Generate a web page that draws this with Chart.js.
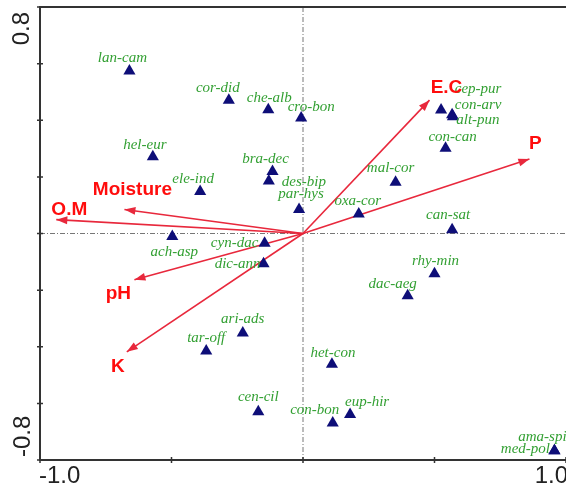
<!DOCTYPE html>
<html>
<head>
<meta charset="utf-8">
<script src="https://cdn.jsdelivr.net/npm/chart.js@4.4.1/dist/chart.umd.min.js"></script>
<style>
  html, body { margin: 0; padding: 0; background: #fff; overflow: hidden; }
  #wrap { width: 566px; height: 496px; position: relative; }
</style>
</head>
<body>
<div id="wrap"><canvas id="cca"></canvas></div>
<script>
// Species scores
const species = [
  "lan-cam", "cor-did", "che-alb", "cro-bon", "hel-eur", "bra-dec", "des-bip",
  "par-hys", "ele-ind", "ach-asp", "cyn-dac", "dic-ann", "ari-ads", "tar-off",
  "cen-cil", "con-bon", "eup-hir", "het-con", "dac-aeg", "rhy-min", "can-sat",
  "mal-cor", "oxa-cor", "con-can", "cep-pur", "con-arv", "alt-pun", "ama-spi", "med-pol"
];
const speciesX = [
  -0.660, -0.282, -0.132, -0.007, -0.571, -0.116, -0.130,
  -0.015, -0.391, -0.497, -0.146, -0.150, -0.229, -0.368,
  -0.170, 0.113, 0.179, 0.110, 0.398, 0.500, 0.567,
  0.352, 0.212, 0.542, 0.525, 0.567, 0.570, 0.956, 0.956
];
const speciesY = [
  0.574, 0.471, 0.437, 0.408, 0.271, 0.219, 0.185,
  0.085, 0.148, -0.011, -0.034, -0.107, -0.351, -0.415,
  -0.630, -0.669, -0.639, -0.462, -0.220, -0.142, 0.013,
  0.181, 0.069, 0.301, 0.436, 0.419, 0.412, -0.767, -0.767
];

// Environmental variable arrows (tips)
const envVars = ["E.C", "P", "Moisture", "O.M", "pH", "K"];
const envX = [0.481, 0.861, -0.679, -0.938, -0.641, -0.670];
const envY = [0.471, 0.263, 0.085, 0.049, -0.163, -0.418];

// Axis ticks
const xTickValues = [-1, -0.5, 0, 0.5, 1];
const yTickValues = [-0.8, -0.6, -0.4, -0.2, 0, 0.2, 0.4, 0.6, 0.8];
const xEndLabels = ["-1.0", "1.0"];
const yEndLabels = ["-0.8", "0.8"];

// label placement in pixels relative to the point (layout only)
const speciesLabelOffset = [
  [-7, -13], [-11, -12], [1, -12], [10, -11], [-8, -12], [-7, -12], [35, 1],
  [2, -15], [-7, -13], [2, 15], [-30, 0], [-26, 0], [0, -14], [0, -13],
  [0, -15], [-18, -13], [17, -12], [1, -11], [-15, -12], [1, -13], [-4, -15],
  [-5, -14], [-1, -13], [7, -11], [37, -21], [26, -10], [25, 3], [-12, -14], [-29, -2]
];
const envLabelOffset = [[17, -12], [6, -15], [8, -20], [13, -10], [-16, 14], [-9, 15]];

const RED = "#e8283c";
const RED_TEXT = "#ff0d0d";
const NAVY = "#0e0e78";
const GREEN = "#33a033";
const AXIS = "#333";

const datasets = [];
datasets.push({
  label: "species",
  data: species.map((s, i) => ({ x: speciesX[i], y: speciesY[i] })),
  pointStyle: "triangle",
  pointRadius: 7,
  pointHoverRadius: 7,
  backgroundColor: NAVY,
  borderColor: NAVY,
  borderWidth: 0,
  showLine: false,
  order: 1
});
envVars.forEach((v, i) => {
  datasets.push({
    label: v,
    data: [{ x: 0, y: 0 }, { x: envX[i], y: envY[i] }],
    showLine: true,
    borderColor: RED,
    borderWidth: 1.6,
    pointRadius: 0,
    order: 2
  });
});

// Plugin: center lines, axes, arrowheads, labels
const biplotDecor = {
  id: "biplotDecor",
  beforeDatasetsDraw(chart) {
    const { ctx, chartArea: a, scales: { x, y } } = chart;
    ctx.save();
    ctx.strokeStyle = "#777";
    ctx.lineWidth = 1;
    ctx.setLineDash([5, 2, 1, 2]);
    const x0 = x.getPixelForValue(0), y0 = y.getPixelForValue(0);
    ctx.beginPath();
    ctx.moveTo(x0, a.top); ctx.lineTo(x0, a.bottom);
    ctx.moveTo(a.left, y0); ctx.lineTo(a.right, y0);
    ctx.stroke();
    ctx.restore();
  },
  afterDatasetsDraw(chart) {
    const { ctx, scales: { x, y } } = chart;
    const ox = x.getPixelForValue(0), oy = y.getPixelForValue(0);
    ctx.save();
    // arrowheads
    ctx.fillStyle = RED;
    envVars.forEach((v, i) => {
      const tx = x.getPixelForValue(envX[i]), ty = y.getPixelForValue(envY[i]);
      const ang = Math.atan2(ty - oy, tx - ox);
      const len = 11, hw = 4;
      ctx.beginPath();
      ctx.moveTo(tx, ty);
      ctx.lineTo(tx - len * Math.cos(ang) + hw * Math.sin(ang), ty - len * Math.sin(ang) - hw * Math.cos(ang));
      ctx.lineTo(tx - len * Math.cos(ang) - hw * Math.sin(ang), ty - len * Math.sin(ang) + hw * Math.cos(ang));
      ctx.closePath();
      ctx.fill();
    });
    // species labels
    ctx.font = "italic 15px 'Liberation Serif', 'DejaVu Serif', serif";
    ctx.fillStyle = GREEN;
    ctx.textAlign = "center";
    ctx.textBaseline = "middle";
    species.forEach((s, i) => {
      const px = x.getPixelForValue(speciesX[i]), py = y.getPixelForValue(speciesY[i]);
      ctx.fillText(s, px + speciesLabelOffset[i][0], py + speciesLabelOffset[i][1]);
    });
    // variable labels
    ctx.font = "bold 19px 'Liberation Sans', Arial, sans-serif";
    ctx.fillStyle = RED_TEXT;
    envVars.forEach((v, i) => {
      const px = x.getPixelForValue(envX[i]), py = y.getPixelForValue(envY[i]);
      ctx.fillText(v, px + envLabelOffset[i][0], py + envLabelOffset[i][1]);
    });
    ctx.restore();
  },
  afterDraw(chart) {
    const { ctx, chartArea: a, scales: { x, y } } = chart;
    ctx.save();
    ctx.strokeStyle = AXIS;
    ctx.lineWidth = 2;
    ctx.setLineDash([]);
    ctx.beginPath();
    ctx.moveTo(a.right + 2, a.top); ctx.lineTo(a.left, a.top);
    ctx.lineTo(a.left, a.bottom); ctx.lineTo(a.right + 2, a.bottom);
    ctx.stroke();
    // ticks
    ctx.lineWidth = 1.5;
    ctx.beginPath();
    xTickValues.forEach(v => {
      const px = x.getPixelForValue(v);
      ctx.moveTo(px, a.bottom - 3); ctx.lineTo(px, a.bottom + 3);
    });
    yTickValues.forEach(v => {
      const py = y.getPixelForValue(v);
      ctx.moveTo(a.left - 3, py); ctx.lineTo(a.left + 3, py);
    });
    ctx.stroke();
    // end labels
    ctx.fillStyle = "#222";
    ctx.font = "24px 'Liberation Sans', Arial, sans-serif";
    ctx.textBaseline = "alphabetic";
    ctx.textAlign = "left";
    ctx.fillText(xEndLabels[0], x.getPixelForValue(-1) - 1, a.bottom + 23);
    ctx.textAlign = "right";
    ctx.fillText(xEndLabels[1], x.getPixelForValue(1) + 2, a.bottom + 23);
    ctx.save();
    ctx.translate(30, y.getPixelForValue(-0.8) - 3);
    ctx.rotate(-Math.PI / 2);
    ctx.textAlign = "left";
    ctx.fillText(yEndLabels[0], 0, 0);
    ctx.restore();
    ctx.save();
    ctx.translate(29, y.getPixelForValue(0.8) + 5);
    ctx.rotate(-Math.PI / 2);
    ctx.textAlign = "right";
    ctx.fillText(yEndLabels[1], 0, 0);
    ctx.restore();
    ctx.restore();
  }
};

new Chart(document.getElementById("cca"), {
  type: "scatter",
  data: { datasets: datasets },
  options: {
    responsive: true,
    maintainAspectRatio: false,
    animation: false,
    layout: { autoPadding: false, padding: { left: 40, right: 0, top: 7, bottom: 36 } },
    plugins: {
      legend: { display: false },
      tooltip: { enabled: false }
    },
    scales: {
      x: { type: "linear", min: -1, max: 1, display: false },
      y: { type: "linear", min: -0.8, max: 0.8, display: false }
    }
  },
  plugins: [biplotDecor]
});
</script>
</body>
</html>
